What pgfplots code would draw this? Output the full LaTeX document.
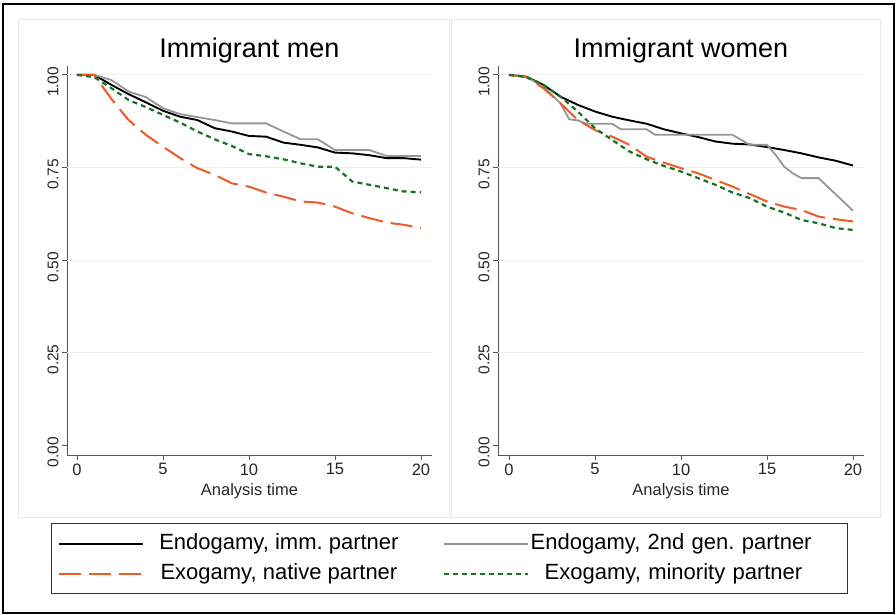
\documentclass[border=0pt]{standalone}
\usepackage{fontspec}
\setmainfont{Liberation Sans}
\usepackage{pgfplots}
\pgfplotsset{compat=1.18}
\definecolor{kmgray}{RGB}{150,150,150}
\definecolor{kmorange}{RGB}{238,90,40}
\definecolor{kmgreen}{RGB}{25,115,35}
\definecolor{axgray}{RGB}{85,85,85}
\definecolor{panelbd}{RGB}{232,232,232}
\definecolor{gridc}{RGB}{238,238,238}

\pgfplotsset{
  kmaxis/.style={
    scale only axis,
    height=389pt,
    ymin=-0.027, ymax=1.024,
    axis x line*=bottom, axis y line*=left,
    axis line style={axgray, line width=0.8pt},
    tick style={axgray, line width=0.8pt},
    major tick length=5pt,
    tick align=outside,
    xtick={0,5,10,15,20},
    xticklabels={0,5,10,15,20},
    ytick={0,0.25,0.5,0.75,1},
    yticklabels={0.00,0.25,0.50,0.75,1.00},
    extra y ticks={0.25,0.5,0.75,1},
    extra y tick labels={},
    extra y tick style={grid=major, major grid style={gridc, line width=0.8pt}, major tick length=0pt},
    /pgf/number format/assume math mode=true,
    xticklabel style={font=\fontsize{16.5}{18}\selectfont, text=black!85},
    yticklabel style={font=\fontsize{15.5}{17}\selectfont, text=black!85, rotate=90, anchor=south, xshift=-7pt},
    xlabel={Analysis time},
    xlabel style={font=\fontsize{16.5}{18}\selectfont, text=black!85, at={(axis description cs:0.5,0)}, anchor=center, yshift=-36pt},
    title style={font=\fontsize{27}{30}\selectfont, at={(axis description cs:0.5,1)}, anchor=base, yshift=2pt},
    clip=false,
  },
  endo/.style={black, line width=1.9pt},
  second/.style={kmgray, line width=1.8pt},
  native/.style={kmorange, line width=2pt, dash pattern=on 22pt off 8pt},
  minority/.style={kmgreen, line width=2.2pt, dash pattern=on 5pt off 4pt},
}

\pgfplotstableread{
t endo sec nat min
0 1.000 1.000 1.000 1.000
1 1.000 1.000 1.000 0.994
2 0.973 0.986 0.935 0.964
3 0.948 0.955 0.878 0.932
4 0.926 0.940 0.838 0.913
5 0.903 0.910 0.806 0.892
6 0.887 0.894 0.775 0.871
7 0.878 0.886 0.748 0.847
8 0.856 0.878 0.730 0.826
9 0.847 0.869 0.707 0.808
10 0.835 0.869 0.698 0.786
11 0.833 0.869 0.682 0.780
12 0.817 0.847 0.671 0.772
13 0.811 0.826 0.658 0.761
14 0.804 0.826 0.655 0.752
15 0.790 0.797 0.644 0.752
16 0.788 0.797 0.626 0.712
17 0.783 0.797 0.613 0.703
18 0.775 0.781 0.601 0.694
19 0.775 0.781 0.595 0.685
20 0.771 0.781 0.586 0.683
}\men

\pgfplotstableread{
t endo nat min
0 1.000 1.000 1.000
1 0.995 0.994 0.995
2 0.973 0.964 0.973
3 0.941 0.923 0.941
4 0.919 0.878 0.901
5 0.901 0.851 0.856
6 0.887 0.833 0.824
7 0.877 0.811 0.793
8 0.868 0.779 0.772
9 0.853 0.763 0.754
10 0.842 0.748 0.739
11 0.832 0.734 0.721
12 0.820 0.716 0.703
13 0.814 0.698 0.682
14 0.812 0.678 0.667
15 0.805 0.658 0.644
16 0.797 0.644 0.628
17 0.788 0.635 0.608
18 0.777 0.617 0.599
19 0.768 0.610 0.586
20 0.755 0.604 0.581
}\women

\pgfplotstableread{
t sec
0 1.000
1 0.995
2 0.968
3 0.923
3.5 0.880
4 0.877
4.5 0.868
6 0.868
6.5 0.853
8 0.853
8.5 0.838
13 0.838
14 0.811
15 0.811
15.5 0.784
16 0.752
16.5 0.734
17 0.721
18 0.721
20 0.633
}\womensec

\begin{document}
\begin{tikzpicture}
\useasboundingbox (0,0) rectangle (896pt,615pt);
\draw[black, line width=2pt] (3pt,2pt) rectangle (894pt,611pt);
\draw[panelbd, line width=0.8pt] (18pt,98pt) rectangle (449pt,596pt);
\draw[panelbd, line width=0.8pt] (451pt,98pt) rectangle (880pt,596pt);

\begin{axis}[kmaxis,
  at={(67pt,160pt)}, anchor=south west,
  width=365pt, xmin=-0.58, xmax=20.64,
  title={Immigrant men},
  legend columns=2,
  legend cell align=center,
  legend image code/.code={\draw[#1] (0pt,0pt) -- (84pt,0pt);},
  legend style={at={(1.048,-0.267)}, anchor=center,
    draw=black!80, line width=1.2pt,
    font=\fontsize{22}{24}\selectfont,
    inner xsep=7pt, inner ysep=7.5pt,
    nodes={inner sep=2pt, text height=16pt, text depth=5pt},
    row sep=5pt,
    /tikz/column 1/.append style={column sep=13pt},
    /tikz/column 2/.append style={column sep=42pt},
    /tikz/column 3/.append style={column sep=0pt},
    /tikz/column 4/.append style={nodes={text width=308pt, align=left}},
  },
]
\addplot[endo] table[x=t, y=endo] {\men};
\addlegendentry{Endogamy, imm.\ partner}
\addplot[second] table[x=t, y=sec] {\men};
\addlegendentry{Endogamy, 2nd gen.\ partner}
\addplot[native] table[x=t, y=nat] {\men};
\addlegendentry{Exogamy, native partner}
\addplot[minority] table[x=t, y=min] {\men};
\addlegendentry{\hspace*{14pt}Exogamy, minority partner}
\end{axis}

\begin{axis}[kmaxis,
  at={(498pt,160pt)}, anchor=south west,
  width=366pt, xmin=-0.64, xmax=20.64,
  title={Immigrant women},
]
\addplot[endo] table[x=t, y=endo] {\women};
\addplot[second] table[x=t, y=sec] {\womensec};
\addplot[native] table[x=t, y=nat] {\women};
\addplot[minority] table[x=t, y=min] {\women};
\end{axis}
\end{tikzpicture}
\end{document}
